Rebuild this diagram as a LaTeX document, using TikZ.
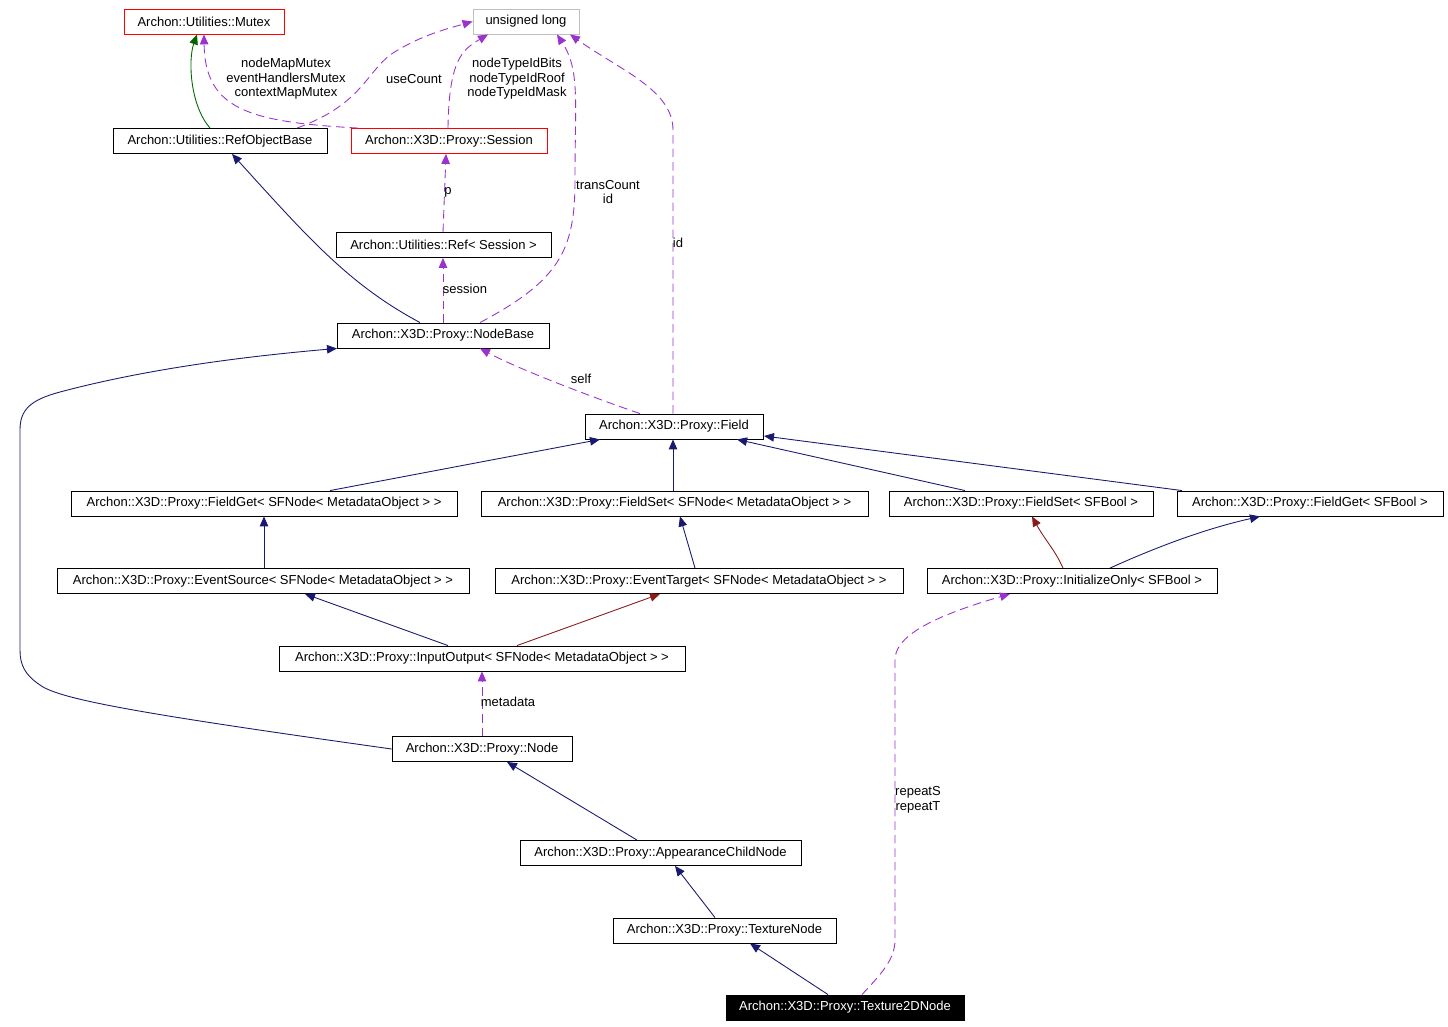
\documentclass[tikz,border=0pt]{standalone}
\usepackage{fontspec}
\setmainfont{Liberation Sans}
\usetikzlibrary{arrows.meta}
\definecolor{navyline}{HTML}{191970}
\definecolor{useline}{HTML}{9A32CD}
\definecolor{protline}{HTML}{8B1A1A}
\definecolor{privline}{HTML}{006400}
\definecolor{extbox}{HTML}{BFBFBF}
\begin{document}
\begin{tikzpicture}[x=0.02cm, y=-0.02cm,
    cls/.style={draw, rectangle, line width=0.5pt, minimum height=0.5cm, inner sep=0pt,
        font=\fontsize{7.4}{8.3}\selectfont},
    redcls/.style={cls, draw=red},
    extcls/.style={cls, draw=extbox},
    curcls/.style={cls, fill=black, text=white},
    lbl/.style={align=center, inner sep=0pt, font=\fontsize{7.4}{8.3}\selectfont},
    tip/.style={-{Triangle[length=0.2cm, width=0.17cm]}, line width=0.5pt},
    inh/.style={tip, navyline},
    prot/.style={tip, protline},
    priv/.style={tip, privline},
    use/.style={tip, useline, dash pattern=on 0.17cm off 0.1cm}]
    \useasboundingbox (0,0) rectangle (1448,1027);
    % Nodes
    \node[redcls, minimum width=3.2cm] (mutex) at (204,21.5) {Archon::Utilities::Mutex};
    \node[extcls, minimum width=2.12cm] (ulong) at (526,21.5) {unsigned long};
    \node[cls, minimum width=4.28cm] (refobj) at (220,141) {Archon::Utilities::RefObjectBase};
    \node[redcls, minimum width=3.92cm] (session) at (449,141) {Archon::X3D::Proxy::Session};
    \node[cls, minimum width=4.3cm] (refsess) at (443.5,245) {Archon::Utilities::Ref< Session >};
    \node[cls, minimum width=4.24cm] (nodebase) at (443,335.5) {Archon::X3D::Proxy::NodeBase};
    \node[cls, minimum width=3.56cm] (field) at (674,426.5) {Archon::X3D::Proxy::Field};
    \node[cls, minimum width=7.72cm] (fgnode) at (264,503.5) {Archon::X3D::Proxy::FieldGet< SFNode< MetadataObject > >};
    \node[cls, minimum width=7.74cm] (fsnode) at (674.5,503.5) {Archon::X3D::Proxy::FieldSet< SFNode< MetadataObject > >};
    \node[cls, minimum width=5.28cm] (fsbool) at (1021,503.5) {Archon::X3D::Proxy::FieldSet< SFBool >};
    \node[cls, minimum width=5.32cm] (fgbool) at (1310,503.5) {Archon::X3D::Proxy::FieldGet< SFBool >};
    \node[cls, minimum width=8.24cm] (evsrc) at (263,581) {Archon::X3D::Proxy::EventSource< SFNode< MetadataObject > >};
    \node[cls, minimum width=8.16cm] (evtgt) at (699,581) {Archon::X3D::Proxy::EventTarget< SFNode< MetadataObject > >};
    \node[cls, minimum width=5.8cm] (initonly) at (1072,581) {Archon::X3D::Proxy::InitializeOnly< SFBool >};
    \node[cls, minimum width=8.12cm] (inout) at (482,658.5) {Archon::X3D::Proxy::InputOutput< SFNode< MetadataObject > >};
    \node[cls, minimum width=3.6cm] (x3dnode) at (482,749) {Archon::X3D::Proxy::Node};
    \node[cls, minimum width=5.62cm] (appchild) at (660.5,853) {Archon::X3D::Proxy::AppearanceChildNode};
    \node[cls, minimum width=4.46cm] (texnode) at (724.5,930.5) {Archon::X3D::Proxy::TextureNode};
    \node[curcls, minimum width=4.76cm] (tex2d) at (845,1007.5) {Archon::X3D::Proxy::Texture2DNode};

    % Usage arrows
    \draw[priv] (210,0 |- refobj.north) .. controls (190,105) and (188,60) .. (197,0 |- mutex.south);
    \draw[use] (358,0 |- session.north) .. controls (250,122) and (205,110) .. (204,0 |- mutex.south);
    \node[lbl] (lblmutex) at (286,79) {nodeMapMutex\\eventHandlersMutex\\contextMapMutex};
    \draw[use] (297,0 |- refobj.north) .. controls (360,105) and (365,75) .. (390,55) .. controls (420,35) and (450,28) .. (ulong.west);
    \node[lbl] (lblusecount) at (414,79) {useCount};
    \draw[use] (448,0 |- session.north) .. controls (449,60) and (462,50) .. (488,0 |- ulong.south);
    \node[lbl] (lblnodetype) at (517,79) {nodeTypeIdBits\\nodeTypeIdRoof\\nodeTypeIdMask};
    \draw[use] (480,0 |- nodebase.north) .. controls (560,280) and (575,250) .. (575,180) .. controls (575,100) and (580,70) .. (557,0 |- ulong.south);
    \node[lbl] (lbltrans) at (608,192) {transCount\\id};
    \draw[use] (673,0 |- field.north) -- (673,130) .. controls (673,90) and (620,70) .. (570,0 |- ulong.south);
    \node[lbl] (lblid) at (678,243) {id};
    \draw[use] (443,0 |- refsess.north) -- (446,0 |- session.south);
    \node[lbl] (lblp) at (448,192) {p};
    \draw[use] (443,0 |- nodebase.north) -- (443,0 |- refsess.south);
    \node[lbl] (lblsession) at (465,289) {session};
    \draw[use] (640,0 |- field.north) .. controls (600,400) and (520,370) .. (480,0 |- nodebase.south);
    \node[lbl] (lblself) at (581,379) {self};
    \draw[use] (482,0 |- x3dnode.north) -- (482,0 |- inout.south);
    \node[lbl] (lblmeta) at (508,702) {metadata};
    \draw[use] (862,0 |- tex2d.north) .. controls (880,975) and (895,960) .. (895,940) -- (895,660) .. controls (895,640) and (920,620) .. (1010,0 |- initonly.south);
    \node[lbl] (lblrepeat) at (918,800) {repeatS\\repeatT};

    % Inheritance arrows
    \draw[inh] (420,0 |- nodebase.north) .. controls (350,285) and (310,240) .. (232,0 |- refobj.south);
    \draw[inh] (x3dnode.west) .. controls (150,715) and (60,700) .. (40,685) .. controls (25,675) and (20,665) .. (20,650) -- (20,430) .. controls (20,410) and (30,400) .. (60,392) .. controls (150,368) and (250,356) .. (337,0 |- nodebase.south);
    \draw[inh] (330,0 |- fgnode.north) -- (600,0 |- field.south);
    \draw[inh] (673,0 |- fsnode.north) -- (673,0 |- field.south);
    \draw[inh] (965,0 |- fsbool.north) -- (737,0 |- field.south);
    \draw[inh] (1182,0 |- fgbool.north) -- (764,436);
    \draw[inh] (264,0 |- evsrc.north) -- (264,0 |- fgnode.south);
    \draw[inh] (695,0 |- evtgt.north) -- (680,0 |- fsnode.south);
    \draw[prot] (1063,0 |- initonly.north) .. controls (1055,550) and (1045,540) .. (1032,0 |- fsbool.south);
    \draw[inh] (1110,0 |- initonly.north) .. controls (1150,550) and (1200,530) .. (1260,0 |- fgbool.south);
    \draw[inh] (448,0 |- inout.north) -- (305,0 |- evsrc.south);
    \draw[prot] (517,0 |- inout.north) -- (660,0 |- evtgt.south);
    \draw[inh] (637,0 |- appchild.north) -- (507,0 |- x3dnode.south);
    \draw[inh] (715,0 |- texnode.north) -- (675,0 |- appchild.south);
    \draw[inh] (828,0 |- tex2d.north) -- (750,0 |- texnode.south);
\end{tikzpicture}
\end{document}
